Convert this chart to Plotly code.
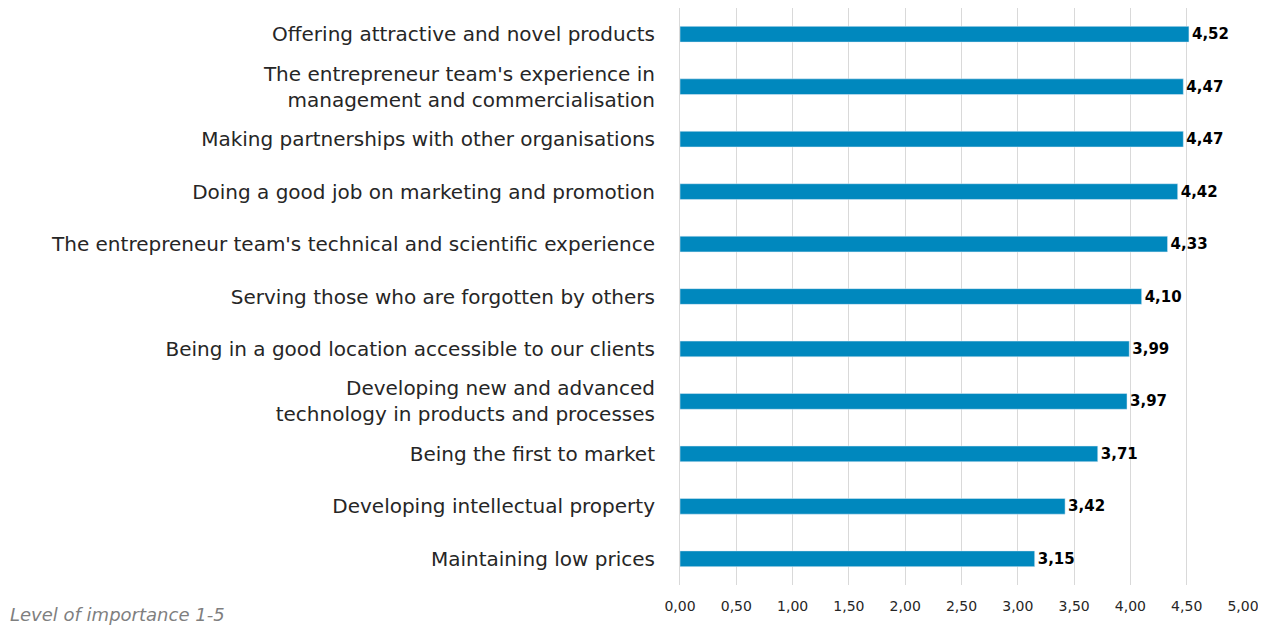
import plotly.graph_objects as go

categories = [
    "Offering attractive and novel products",
    "The entrepreneur team's experience in<br>management and commercialisation",
    "Making partnerships with other organisations",
    "Doing a good job on marketing and promotion",
    "The entrepreneur team's technical and scientific experience",
    "Serving those who are forgotten by others",
    "Being in a good location accessible to our clients",
    "Developing new and advanced<br>technology in products and processes",
    "Being the first to market",
    "Developing intellectual property",
    "Maintaining low prices",
]
values = [4.52, 4.47, 4.47, 4.42, 4.33, 4.10, 3.99, 3.97, 3.71, 3.42, 3.15]
x_ticks = [0, 0.5, 1, 1.5, 2, 2.5, 3, 3.5, 4, 4.5, 5]

FONT = "DejaVu Sans"

fig = go.Figure(go.Bar(
    x=values, y=categories, orientation="h",
    marker=dict(color="#0088BE"),
    width=0.3,
    texttemplate="<b>%{x:.2f}</b>", textposition="outside",
    constraintext="none",
    textfont=dict(family=FONT, size=15, color="#000000"),
    cliponaxis=False,
))

fig.update_layout(
    width=1258, height=621,
    margin=dict(l=672, r=23, t=0, b=44),
    paper_bgcolor="white", plot_bgcolor="white",
    separators=", ",
    showlegend=False,
    font=dict(family=FONT, color="#262626"),
    xaxis=dict(range=[0, 5], tickvals=x_ticks, tickformat=".2f",
               showgrid=True, gridcolor="#d9d9d9", gridwidth=1,
               zeroline=False, showline=False, automargin=False,
               tickfont=dict(family=FONT, size=14, color="#262626"),
               ticks="", ticklabelstandoff=11),
    yaxis=dict(autorange="reversed", showline=True, linecolor="#d9d9d9",
               linewidth=1, ticks="", ticklabelstandoff=20, automargin=False,
               tickfont=dict(family=FONT, size=20, color="#262626")),
    annotations=[dict(text="<i>Level of importance 1-5</i>", xref="paper", yref="paper",
                      x=-672/563, y=-(614 - 585)/577, xanchor="left", yanchor="middle",
                      showarrow=False,
                      font=dict(family=FONT, size=18, color="#7f7f7f"))],
)

fig.write_html("out.html")
